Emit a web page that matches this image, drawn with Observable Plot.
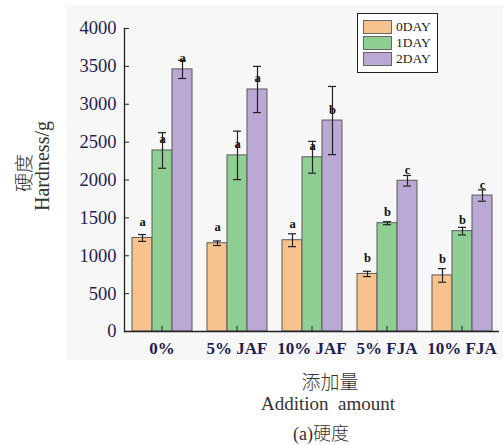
<!DOCTYPE html>
<html>
<head>
<meta charset="utf-8">
<script src="https://cdn.jsdelivr.net/npm/d3@7"></script>
<script src="https://cdn.jsdelivr.net/npm/@observablehq/plot@0.6"></script>
<style>
  html, body { margin: 0; padding: 0; background: #fff; }
  #wrap { position: relative; width: 503px; height: 445px; overflow: hidden; font-family: "Liberation Serif", "Times New Roman", serif; }
  #panel { position: absolute; left: 66px; top: 5px; width: 437px; height: 355px; background: #f7f7f7; }
  #chart { position: absolute; left: 0; top: 0; }
  .lbl { position: absolute; white-space: pre; color: #333; transform: translate(-50%, -50%); font-family: "Liberation Serif", "Times New Roman", "Noto Sans CJK SC", serif; }
  .ylbl { position: absolute; white-space: pre; color: #333; transform: translate(-50%, -50%) rotate(-90deg); font-family: "Liberation Serif", "Times New Roman", "Noto Sans CJK SC", serif; }
  .cjk { font-family: "Noto Sans CJK SC", serif; font-weight: 300; }
  #legend { position: absolute; left: 357px; top: 13px; width: 79px; height: 58px; border: 1px solid #222; background: #fff; }
  .item { position: absolute; left: 5px; height: 14px; display: flex; align-items: center; font-size: 13.5px; color: #222; font-family: "Liberation Serif", "Times New Roman", serif; }
  .sw { width: 27px; height: 12px; border: 1px solid #666; margin-right: 4px; }
</style>
</head>
<body>
<div id="wrap">
  <div id="panel"></div>
  <div id="chart"></div>
  <div id="legend"></div>
  <div class="ylbl cjk" style="left:22px; top:173px; font-size:19px;">硬度</div>
  <div class="ylbl" style="left:42px; top:166px; font-size:20px;">Hardness/g</div>
  <div class="lbl cjk" style="left:330px; top:380px; font-size:19px;">添加量</div>
  <div class="lbl" style="left:328px; top:404px; font-size:19px;">Addition  amount</div>
  <div class="lbl" style="left:321px; top:432px; font-size:18px;">(a)<span class="cjk">硬度</span></div>
</div>
<script>
const groups = ["0%", "5% JAF", "10% JAF", "5% FJA", "10% FJA"];
const days = ["0DAY", "1DAY", "2DAY"];
const day0 = [1235, 1165, 1205, 760, 740];
const day0Err = [45, 30, 85, 35, 90];
const day1 = [2390, 2325, 2300, 1430, 1325];
const day1Err = [235, 320, 210, 20, 50];
const day2 = [3460, 3195, 2785, 1990, 1795];
const day2Err = [120, 305, 450, 70, 75];
const letters0 = ["a", "a", "a", "b", "b"];
const letters1 = ["a", "a", "a", "b", "b"];
const letters2 = ["a", "a", "b", "c", "c"];
const yTicks = [0, 500, 1000, 1500, 2000, 2500, 3000, 3500, 4000];
const colors = ["#f8c28f", "#90cf93", "#bba9d5"];

const vals = [day0, day1, day2], errs = [day0Err, day1Err, day2Err], lets = [letters0, letters1, letters2];
const rows = [];
groups.forEach((g, i) => days.forEach((d, j) => rows.push({group: g, day: d, value: vals[j][i], err: errs[j][i], letter: lets[j][i]})));

const letterDy = {"0DAY": -16, "1DAY": -11, "2DAY": -11};
const serif = "'Liberation Serif', 'Times New Roman', serif";

const chart = Plot.plot({
  width: 503, height: 362,
  marginLeft: 123, marginRight: 4, marginTop: 28, marginBottom: 31,
  style: {background: "transparent", fontFamily: serif, overflow: "visible"},
  fx: {domain: groups, padding: 0, label: null},
  x: {domain: days, padding: 0, insetLeft: 7.5, insetRight: 7.5, axis: null},
  y: {domain: [0, 4000], label: null},
  color: {domain: days, range: colors},
  marks: [
    Plot.barY(rows, {fx: "group", x: "day", y: "value", fill: "day", stroke: "#5a5a5a", strokeWidth: 1}),
    Plot.ruleX(rows, {fx: "group", x: "day", y1: d => d.value - d.err, y2: d => d.value + d.err, stroke: "#222", strokeWidth: 1.2}),
    Plot.tickY(rows, {fx: "group", x: "day", y: d => d.value - d.err, stroke: "#222", strokeWidth: 1.2, insetLeft: 6, insetRight: 6}),
    Plot.tickY(rows, {fx: "group", x: "day", y: d => d.value + d.err, stroke: "#222", strokeWidth: 1.2, insetLeft: 6, insetRight: 6}),
    ...days.map(day => Plot.text(rows.filter(r => r.day === day), {fx: "group", x: "day", y: "value", text: "letter", dy: letterDy[day], fontSize: 12.5, fontWeight: "bold", fontFamily: serif, fill: "#111"})),
    Plot.ruleY([0], {stroke: "#222", strokeWidth: 1.3}),
    Plot.frame({anchor: "left", facetAnchor: "left", stroke: "#222", strokeWidth: 1.3}),
    Plot.axisY({ticks: yTicks, tickFormat: d => String(d), tickSize: -5, tickPadding: 13, fontSize: 18.5, fontFamily: serif, fill: "#1e1e4e", stroke: "#222"}),
    Plot.axisFx({anchor: "bottom", tickSize: -5, tickPadding: 15, fontSize: 17, fontWeight: "bold", fontFamily: serif, fill: "#1e1e4e", stroke: "#222", label: null})
  ]
});
document.getElementById("chart").appendChild(chart);

const legend = document.getElementById("legend");
days.forEach((d, j) => {
  const it = document.createElement("div");
  it.className = "item";
  it.style.top = (6 + j * 16) + "px";
  const sw = document.createElement("div");
  sw.className = "sw";
  sw.style.background = colors[j];
  it.appendChild(sw);
  it.appendChild(document.createTextNode(d));
  legend.appendChild(it);
});
</script>
</body>
</html>
